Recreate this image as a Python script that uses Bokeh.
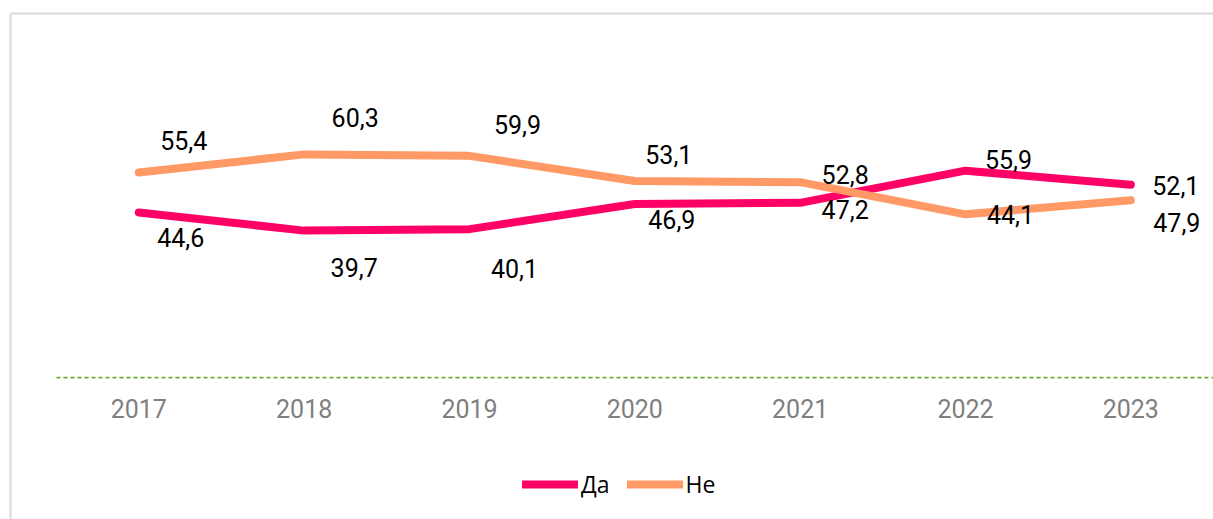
from bokeh.plotting import figure
from bokeh.models import (Range1d, LinearAxis, FixedTicker, ColumnDataSource,
                          Legend, LegendItem)
from bokeh.core.properties import value
from bokeh.embed import file_html
from bokeh.resources import INLINE

# ---- data ----
years = [2017, 2018, 2019, 2020, 2021, 2022, 2023]
year_labels = ["2017", "2018", "2019", "2020", "2021", "2022", "2023"]
series_names = ["Да", "Не"]
da = [44.6, 39.7, 40.1, 46.9, 47.2, 55.9, 52.1]
ne = [55.4, 60.3, 59.9, 53.1, 52.8, 44.1, 47.9]

# ---- label placement (screen px offsets from each point) ----
da_dx = [42, 50, 45, 37, 45, 43, 45]
da_dy = [25, 37, 39, 16, 7, -11, 1]
ne_dx = [45, 51, 48, 34, 45, 45, 46]
ne_dy = [-32, -37, -31, -27, -8, 0, 22]

PINK = "#FF0066"
ORANGE = "#FF9966"
BORDER = "#D9D9D9"
FONT = "Roboto"


def fmt(v):
    return f"{v:.1f}".replace(".", ",")


src = ColumnDataSource(dict(
    x=years, da=da, ne=ne,
    da_lbl=[fmt(v) for v in da], ne_lbl=[fmt(v) for v in ne],
    da_dx=da_dx, da_dy=da_dy, ne_dx=ne_dx, ne_dy=ne_dy,
))

p = figure(width=1213, height=519, output_backend="svg", toolbar_location=None,
           x_range=Range1d(2016.224, 2023.50), y_range=Range1d(-38.38, 98.38),
           min_border_left=10, min_border_right=0, min_border_top=13,
           min_border_bottom=0)
p.outline_line_color = None
p.grid.visible = False
p.background_fill_color = "white"
p.border_fill_color = "white"

# category axis sitting on the zero line
xa = p.xaxis[0]
xa.ticker = FixedTicker(ticks=years)
xa.major_label_overrides = {y: l for y, l in zip(years, year_labels)}
xa.fixed_location = 0
xa.bounds = (years[0] - 0.5, years[-1] + 0.5)
xa.axis_line_color = "#6CB02E"
xa.axis_line_width = 1.75
xa.axis_line_dash = "4 3"
xa.major_tick_line_color = None
xa.minor_tick_line_color = None
xa.major_tick_out = 0
xa.minor_tick_out = 0
xa.major_label_standoff = 22
xa.major_label_text_font = FONT
xa.major_label_text_font_size = "25px"
xa.major_label_text_color = "#7F7F7F"

# chart-area border (left + top)
ya = p.yaxis[0]
ya.ticker = FixedTicker(ticks=[])
ya.major_tick_out = 0
ya.minor_tick_out = 0
ya.major_label_text_font_size = "0px"
ya.axis_line_color = BORDER
ya.axis_line_width = 2

top_ax = LinearAxis(ticker=FixedTicker(ticks=[]), major_tick_out=0, minor_tick_out=0,
                    major_label_text_font_size="0px", axis_line_color=BORDER,
                    axis_line_width=2)
p.add_layout(top_ax, "above")

r_da = p.line(x="x", y="da", source=src, line_color=PINK, line_width=8,
              line_cap="round", line_join="round")
r_ne = p.line(x="x", y="ne", source=src, line_color=ORANGE, line_width=8,
              line_cap="round", line_join="round")

common = dict(source=src, text_align="center", text_baseline="middle",
              text_font=value(FONT), text_font_size="25px", text_color="#000000")
p.text(x="x", y="da", text="da_lbl", x_offset="da_dx", y_offset="da_dy", **common)
p.text(x="x", y="ne", text="ne_lbl", x_offset="ne_dx", y_offset="ne_dy", **common)

legend = Legend(items=[LegendItem(label=series_names[0], renderers=[r_da]),
                       LegendItem(label=series_names[1], renderers=[r_ne])],
                location=(512, 19), orientation="horizontal",
                border_line_color=None, background_fill_alpha=0,
                padding=0, margin=0, spacing=17, glyph_width=56, glyph_height=20,
                label_standoff=3, label_text_font="Open Sans",
                label_text_font_size="23px", label_text_color="#000000")
p.add_layout(legend)

open("out.html", "w").write(file_html(p, INLINE))
